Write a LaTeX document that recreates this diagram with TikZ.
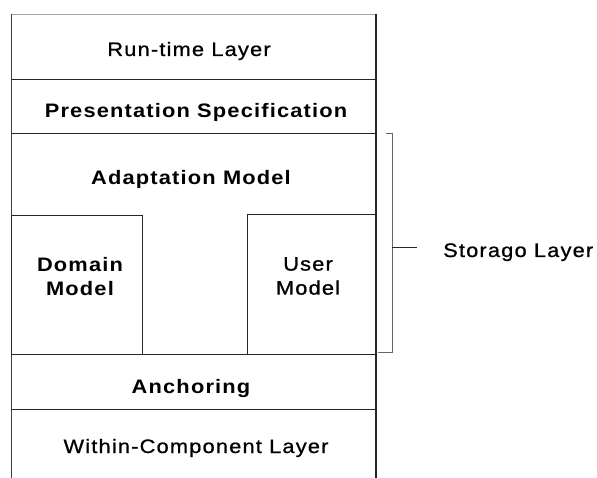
\documentclass[tikz,border=0pt]{standalone}
\usepackage{fontspec}
\setmainfont{Liberation Sans}[LetterSpace=6,FakeStretch=1.12,UprightFeatures={FakeBold=0.8}]
\begin{document}
\begin{tikzpicture}[x=1pt,y=-1pt,
  frame/.style={draw=black!85,line width=0.9pt},
  faint/.style={draw=black!35,line width=0.8pt},
  lbl/.style={anchor=base,inner sep=0pt,font=\fontsize{19.5}{24}\selectfont},
  blbl/.style={lbl,font=\fontsize{19.5}{24}\selectfont\bfseries},
  twoline/.style={anchor=north,inner sep=0pt,align=center,font=\fontsize{19.5}{24}\selectfont}]
\useasboundingbox (0,0) rectangle (597,478);

% outer frame, open at the bottom
\draw[faint] (11,14) -- (376,14);
\draw[frame,draw=black!75] (11,14) -- (11,478);
\draw[frame,line width=1.3pt] (376,14) -- (376,478);

% layer boundaries
\draw[frame] (11,79) -- (376,79);
\draw[frame] (11,133) -- (376,133);
\draw[frame] (11,354) -- (376,354);
\draw[frame] (11,409) -- (376,409);

% model boxes inside the adaptation layer
\draw[frame] (11,215) rectangle (142,354);
\draw[frame] (247,214) rectangle (376,354);

% layer labels
\node[lbl]  (runtime)  at (189,56)  {Run-time Layer};
\node[blbl] (present)  at (196,118) {Presentation Specification};
\node[blbl] (adapt)    at (191,185) {Adaptation Model};
\node[twoline,font=\fontsize{19.5}{24}\selectfont\bfseries] (domain) at (80,257) {Domain\\Model};
\node[twoline] (user)  at (308,257) {User\\Model};
\node[blbl] (anchor)   at (191,393) {Anchoring};
\node[lbl]  (within)   at (196,453) {Within-Component Layer};

% storage bracket
\draw[faint,draw=black!60,line width=0.9pt] (386,133) -- (392,133) -- (392,352) -- (378,352);
\coordinate (brmid) at (392,247);
\node[lbl,anchor=base west] (storage) at (443,257) {Storago Layer};
\draw[frame] (brmid) -- (417,247);
\end{tikzpicture}
\end{document}
